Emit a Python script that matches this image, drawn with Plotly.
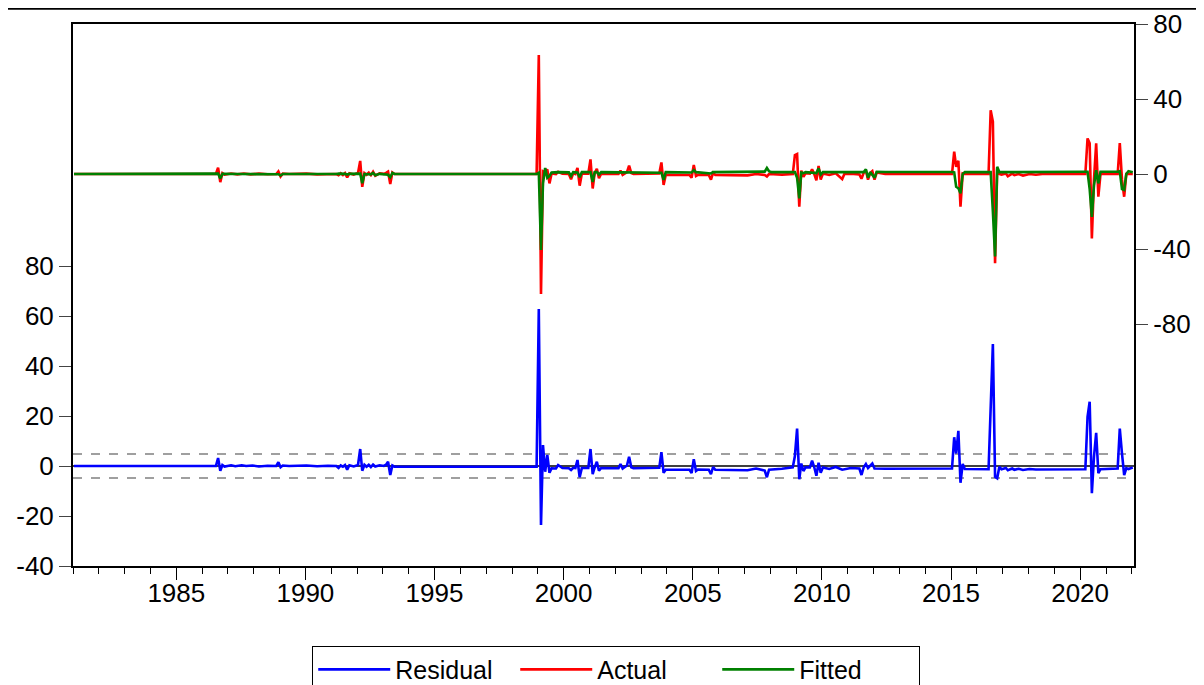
import pandas as pd
import plotly.graph_objects as go

RES_DATES = ["1981-01", "1986-07", "1986-08", "1986-09", "1986-10", "1986-11", "1987-02", "1987-04", "1987-07",
             "1987-09", "1987-12", "1988-03", "1988-07", "1988-11", "1988-12", "1989-01", "1989-02", "1989-05",
             "1990-01", "1990-06", "1990-11", "1991-03", "1991-04", "1991-05", "1991-06", "1991-07", "1991-08",
             "1991-09", "1991-11", "1992-01", "1992-02", "1992-03", "1992-04", "1992-05", "1992-06", "1992-07",
             "1992-08", "1992-09", "1992-11", "1993-01", "1993-02", "1993-03", "1993-04", "1993-05", "1993-06",
             "1998-12", "1999-01", "1999-02", "1999-03", "1999-04", "1999-05", "1999-06", "1999-07", "1999-09",
             "1999-10", "1999-12", "2000-03", "2000-04", "2000-05", "2000-06", "2000-07", "2000-08", "2000-09",
             "2000-12", "2001-01", "2001-02", "2001-03", "2001-04", "2001-05", "2001-06", "2002-02", "2002-03",
             "2002-04", "2002-05", "2002-06", "2002-07", "2002-08", "2002-09", "2003-05", "2003-09", "2003-10",
             "2003-11", "2003-12", "2004-06", "2004-11", "2004-12", "2005-01", "2005-02", "2005-03", "2005-08",
             "2005-09", "2005-10", "2005-11", "2006-06", "2007-01", "2007-02", "2007-06", "2007-09", "2007-10",
             "2007-11", "2007-12", "2008-06", "2008-11", "2008-12", "2009-01", "2009-02", "2009-03", "2009-04",
             "2009-05", "2009-07", "2009-08", "2009-09", "2009-10", "2009-11", "2009-12", "2010-01", "2010-04",
             "2010-07", "2010-10", "2011-02", "2011-06", "2011-07", "2011-08", "2011-09", "2011-10", "2011-12",
             "2012-01", "2012-06", "2014-12", "2015-01", "2015-02", "2015-03", "2015-04", "2015-05", "2015-06",
             "2015-07", "2016-06", "2016-07", "2016-08", "2016-09", "2016-10", "2016-11", "2016-12", "2017-02",
             "2017-03", "2017-05", "2017-06", "2017-08", "2017-10", "2018-01", "2018-04", "2020-03", "2020-04",
             "2020-05", "2020-06", "2020-07", "2020-08", "2020-09", "2020-10", "2021-06", "2021-07", "2021-08",
             "2021-09", "2021-10", "2021-11", "2021-12", "2022-01"]
RESIDUAL = [0.0, 0.0, 3.2, -1.9, 0.4, -0.2, 0.3, -0.1, 0.3,
            0.0, 0.2, -0.2, 0.1, 0.0, 1.5, -0.5, 0.2, 0.0,
            0.2, -0.1, 0.1, 0.0, -0.8, 0.2, -0.3, 0.4, -1.5,
            0.3, -0.2, 0.4, 6.8, -1.9, 0.5, -0.3, 0.5, -0.4,
            0.6, -0.2, 0.3, 0.0, 0.5, 1.7, -3.6, 0.2, -0.3,
            -0.3, 62.8, -23.6, 8.4, -2.3, 4.4, -2.7, -0.9, -1.0,
            0.4, -0.8, -0.9, -1.6, -0.7, -0.8, 2.4, -4.5, -0.8,
            -0.8, 6.8, -3.3, -0.6, 1.7, -1.9, -0.8, -0.9, 0.8,
            -1.0, -0.5, 0.2, 3.7, -0.5, -0.9, -0.9, -0.7, 5.5,
            -2.7, -1.5, -1.6, -1.5, -2.8, 2.7, -2.0, -1.4, -1.5,
            -3.3, -0.4, -1.5, -1.6, -1.5, -1.7, -1.0, -1.4, -1.8,
            -4.5, -1.5, -1.1, -0.5, 4.0, 15.0, -5.3, 1.0, -2.0,
            -0.5, -0.6, 2.1, -0.5, -3.9, 1.3, -2.7, -0.6, -1.2,
            -0.4, -1.5, -0.8, -1.0, -3.6, -0.5, 0.8, -0.8, 1.0,
            -1.0, -1.1, -1.2, -1.0, 11.5, 5.0, 14.1, -6.7, 0.8,
            -1.2, -1.3, 20.0, 48.8, -4.3, -4.9, -0.3, -1.3, -0.8,
            -1.7, -1.0, -1.5, -1.1, -1.6, -1.2, -1.4, -1.3, 19.7,
            25.7, -10.9, 3.7, 13.3, -2.9, -1.3, -1.0, 15.0, 5.0,
            -3.6, -0.9, -1.2, -0.9, -0.6]

ACT_DATES = ["1981-01", "1986-07", "1986-08", "1986-09", "1986-10", "1986-11", "1987-02", "1987-05", "1987-08",
             "1987-11", "1988-03", "1988-07", "1988-11", "1988-12", "1989-01", "1989-02", "1989-05", "1990-01",
             "1990-06", "1990-11", "1991-03", "1991-04", "1991-05", "1991-06", "1991-07", "1991-08", "1991-09",
             "1991-11", "1992-01", "1992-02", "1992-03", "1992-04", "1992-05", "1992-06", "1992-07", "1992-08",
             "1992-09", "1992-11", "1993-01", "1993-02", "1993-03", "1993-04", "1993-05", "1993-06", "1998-12",
             "1999-01", "1999-02", "1999-03", "1999-04", "1999-05", "1999-06", "1999-07", "1999-09", "1999-10",
             "1999-12", "2000-03", "2000-04", "2000-05", "2000-06", "2000-07", "2000-08", "2000-09", "2000-12",
             "2001-01", "2001-02", "2001-03", "2001-04", "2001-05", "2001-06", "2002-02", "2002-03", "2002-04",
             "2002-05", "2002-06", "2002-07", "2002-08", "2002-09", "2003-05", "2003-09", "2003-10", "2003-11",
             "2003-12", "2004-06", "2004-11", "2004-12", "2005-01", "2005-02", "2005-03", "2005-08", "2005-09",
             "2005-10", "2005-11", "2006-06", "2007-01", "2007-02", "2007-06", "2007-09", "2007-10", "2007-11",
             "2007-12", "2008-06", "2008-11", "2008-12", "2009-01", "2009-02", "2009-03", "2009-04", "2009-05",
             "2009-07", "2009-08", "2009-09", "2009-10", "2009-11", "2009-12", "2010-01", "2010-04", "2010-07",
             "2010-10", "2010-11", "2011-02", "2011-06", "2011-07", "2011-08", "2011-09", "2011-10", "2011-11",
             "2011-12", "2012-01", "2012-02", "2012-06", "2014-12", "2015-01", "2015-02", "2015-03", "2015-04",
             "2015-05", "2015-06", "2015-07", "2016-06", "2016-07", "2016-08", "2016-09", "2016-10", "2016-11",
             "2016-12", "2017-02", "2017-03", "2017-05", "2017-06", "2017-08", "2017-10", "2018-01", "2018-04",
             "2018-07", "2020-03", "2020-04", "2020-05", "2020-06", "2020-07", "2020-08", "2020-09", "2020-10",
             "2021-06", "2021-07", "2021-08", "2021-09", "2021-10", "2022-01"]
ACTUAL = [0.0, 0.0, 3.4, -4.3, 0.5, -0.3, 0.3, -0.2, 0.3,
          -0.2, 0.2, -0.1, 0.0, 1.4, -1.3, 0.2, 0.0, 0.2,
          -0.2, 0.1, 0.0, -0.6, 0.4, -0.5, 0.5, -1.8, 0.4,
          -0.3, 0.6, 7.0, -6.8, 0.5, -0.4, 0.7, -0.6, 1.2,
          -0.9, 0.4, 0.1, 0.6, 1.3, -5.3, 0.8, 0.0, 0.0,
          63.5, -64.0, 1.5, 1.0, 2.5, -5.0, 0.3, 0.0, 1.2,
          0.2, 0.0, -2.8, 0.4, 0.0, 3.2, -6.2, 0.3, 0.2,
          7.8, -7.7, 0.5, 2.8, -2.2, 0.2, 0.0, 1.8, -0.5,
          0.3, 1.0, 4.5, 0.5, 0.0, 0.0, 0.3, 6.2, -5.8,
          -0.5, -0.6, -0.5, -2.0, 4.8, -1.0, -0.4, -0.5, -3.0,
          0.6, -0.5, -0.6, -0.5, -0.7, 0.0, -0.4, -0.5, -1.3,
          0.0, -0.3, 0.0, 10.1, 10.7, -17.4, 1.8, -1.5, 0.5,
          0.2, 2.5, 0.0, -3.4, 4.3, -3.0, 0.3, -0.5, 0.4,
          -2.7, 0.0, 0.2, -0.2, -2.5, 0.6, 2.0, -3.0, 0.5,
          1.5, -3.0, 0.8, 0.0, 0.0, 0.0, 11.9, 3.9, 7.1,
          -17.4, 0.3, 0.0, 0.0, 34.0, 28.0, -47.6, 3.0, 0.0,
          -0.3, 0.3, -1.2, 0.2, -0.6, 0.0, -0.8, 0.0, -0.4,
          0.0, 0.0, 19.0, 16.4, -34.3, -3.0, 16.4, -12.1, 0.0,
          0.0, 16.5, -3.0, -12.1, 0.0, 0.0]

FIT_DATES = ["1981-01", "1986-07", "1986-08", "1986-09", "1986-10", "1987-06", "1988-12", "1989-01", "1989-02",
             "1991-03", "1991-04", "1991-07", "1991-08", "1991-09", "1992-01", "1992-02", "1992-03", "1992-04",
             "1992-07", "1992-08", "1992-09", "1992-11", "1993-03", "1993-04", "1993-05", "1993-06", "1998-12",
             "1999-01", "1999-02", "1999-03", "1999-04", "1999-05", "1999-06", "1999-07", "1999-10", "2000-03",
             "2000-04", "2000-05", "2000-07", "2000-08", "2000-09", "2001-01", "2001-02", "2001-03", "2001-04",
             "2001-05", "2001-06", "2002-03", "2002-07", "2002-08", "2003-10", "2003-11", "2003-12", "2004-12",
             "2005-01", "2005-02", "2005-09", "2005-10", "2007-10", "2007-11", "2007-12", "2008-01", "2008-12",
             "2009-01", "2009-02", "2009-03", "2009-04", "2009-05", "2009-10", "2009-11", "2009-12", "2010-01",
             "2011-08", "2011-09", "2011-10", "2011-11", "2012-01", "2012-02", "2012-06", "2015-01", "2015-02",
             "2015-03", "2015-04", "2015-05", "2015-06", "2015-07", "2016-06", "2016-07", "2016-08", "2016-09",
             "2016-10", "2016-11", "2020-03", "2020-04", "2020-05", "2020-06", "2020-07", "2020-08", "2020-09",
             "2020-10", "2021-06", "2021-07", "2021-08", "2021-09", "2021-10", "2021-11", "2022-01"]
FITTED = [0.0, 0.0, 0.2, -2.4, 0.1, 0.0, -0.1, -0.8, 0.0,
          0.0, 0.2, 0.1, -0.3, 0.1, 0.2, 0.2, -4.9, 0.0,
          -0.2, 0.6, -0.7, 0.1, -0.4, -1.7, 0.6, 0.0, 0.0,
          0.7, -40.5, -5.0, 3.2, -2.0, -1.0, 0.8, 1.0, 0.9,
          -1.0, 1.0, 0.8, -1.7, 1.0, 1.0, -4.2, 1.0, 1.1,
          -0.3, 1.0, 1.0, 0.8, 1.0, 0.7, -3.1, 1.0, 0.8,
          2.1, 1.0, 0.3, 1.0, 1.3, 3.2, 1.5, 1.0, 1.0,
          -2.0, -13.0, 0.8, 0.5, 1.0, 0.5, 3.0, -0.3, 1.0,
          1.0, 2.5, -2.0, 1.0, -2.0, 1.2, 1.1, 1.1, 0.9,
          -6.8, -7.6, -10.3, 0.0, 1.0, 1.1, 1.0, -20.0, -44.0,
          3.9, 1.0, 1.2, 1.2, -8.0, -22.8, -6.0, 2.0, -5.0,
          1.2, 1.2, 1.5, -8.0, -8.5, 0.0, 1.5, 1.0]

SERIES_NAMES = ["Residual", "Actual", "Fitted"]
RESID_SE = 4.8                       # residual standard-error band
LEFT_TICKS = [-40, -20, 0, 20, 40, 60, 80]
RIGHT_TICKS = [-80, -40, 0, 40, 80]
X_START, X_END = "1981-01-01", "2022-02-01"


def mid_month(dates):
    return pd.to_datetime(dates) + pd.Timedelta(days=14)


FONT = "Arial, Liberation Sans, sans-serif"
BLUE, RED, GREEN = "#0000FF", "#FF0000", "#008000"

fig = go.Figure()
fig.add_trace(go.Scatter(x=mid_month(RES_DATES), y=RESIDUAL, name=SERIES_NAMES[0], mode="lines",
                         line=dict(color=BLUE, width=2.6), yaxis="y"))
fig.add_trace(go.Scatter(x=mid_month(ACT_DATES), y=ACTUAL, name=SERIES_NAMES[1], mode="lines",
                         line=dict(color=RED, width=2.6), yaxis="y2"))
fig.add_trace(go.Scatter(x=mid_month(FIT_DATES), y=FITTED, name=SERIES_NAMES[2], mode="lines",
                         line=dict(color=GREEN, width=2.6), yaxis="y2"))

# residual reference lines
fig.add_shape(type="line", xref="paper", x0=0, x1=1, yref="y", y0=0, y1=0,
              line=dict(color="black", width=1.5), layer="below")
for s in (RESID_SE, -RESID_SE):
    fig.add_shape(type="line", xref="paper", x0=0, x1=1, yref="y", y0=s, y1=s,
                  line=dict(color="#808080", width=1.3, dash="dash"), layer="below")

# frame line at the very top of the picture
fig.add_shape(type="line", xref="paper", yref="paper", x0=-0.07, x1=1.07, y0=1.029, y1=1.029,
              line=dict(color="black", width=3))

tickfont = dict(family=FONT, size=26, color="black")
fig.update_layout(
    width=1196, height=700,
    margin=dict(l=65, r=70, t=16, b=142, autoexpand=False),
    paper_bgcolor="white", plot_bgcolor="white",
    font=dict(family=FONT, color="black"),
    xaxis=dict(type="date", range=[X_START, X_END], tick0="1985-01-01", dtick="M60", tickformat="%Y",
               ticks="outside", ticklen=12, tickwidth=1, tickcolor="black", ticklabelstandoff=-9,
               minor=dict(dtick="M12", tick0="1985-01-01", ticks="outside", ticklen=6, tickcolor="black"),
               showline=True, linecolor="black", linewidth=2, mirror=True,
               showgrid=False, zeroline=False, tickfont=tickfont, automargin=False),
    yaxis=dict(range=[-40, 176.8], tickmode="array", tickvals=LEFT_TICKS,
               ticktext=[str(v) for v in LEFT_TICKS],
               ticks="outside", ticklen=12, tickcolor="#444444", showline=True, linecolor="black",
               linewidth=2, showgrid=False, zeroline=False, tickfont=tickfont, automargin=False),
    yaxis2=dict(range=[-209, 80], tickmode="array", tickvals=RIGHT_TICKS,
                ticktext=[str(v) for v in RIGHT_TICKS], overlaying="y", side="right",
                ticks="outside", ticklen=12, tickcolor="#444444", showline=True, linecolor="black",
                linewidth=2, showgrid=False, zeroline=False, tickfont=tickfont, automargin=False),
    showlegend=True,
    legend=dict(orientation="h", x=0.512, xanchor="center", y=-0.147, yanchor="top",
                bordercolor="black", borderwidth=1, bgcolor="white",
                font=dict(family=FONT, size=25, color="black"),
                entrywidth=115, itemwidth=72),
)

fig.write_html("out.html")
